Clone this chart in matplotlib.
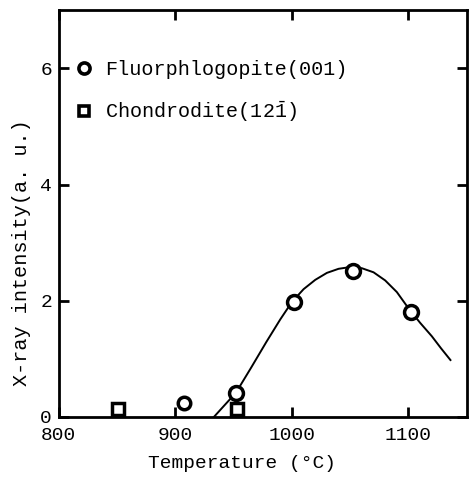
import matplotlib
matplotlib.use("Agg")
import matplotlib.pyplot as plt
from matplotlib.lines import Line2D

plt.rcParams['font.family'] = ['Liberation Mono', 'DejaVu Sans Mono']
plt.rcParams['mathtext.fontset'] = 'custom'
plt.rcParams['mathtext.rm'] = 'Liberation Mono'
plt.rcParams['mathtext.it'] = 'Liberation Mono'

# --- dados ---
phlog_temp = [952, 1002, 1052, 1102]
phlog_int = [0.42, 1.98, 2.52, 1.81]

chond_temp = [851, 953]
chond_int = [0.14, 0.14]

# ponto isolado em ~907 (circulo)
extra_temp = [907]
extra_int = [0.24]

# curva desenhada a mao
curve_temp = [933, 952, 965, 978, 990, 1000, 1010, 1020, 1030, 1040, 1050,
              1060, 1070, 1080, 1090, 1100, 1110, 1120, 1128, 1136]
curve_int = [0.0, 0.42, 0.85, 1.29, 1.68, 1.98, 2.20, 2.36, 2.48, 2.55, 2.58,
             2.56, 2.49, 2.35, 2.15, 1.87, 1.62, 1.39, 1.18, 0.98]

x_ticks = [800, 900, 1000, 1100]
y_ticks = [0, 2, 4, 6]

fig = plt.figure(figsize=(4.71, 4.86), dpi=100)
ax = fig.add_axes([0.125, 0.142, 0.866, 0.837])

ax.plot(curve_temp, curve_int, color="black", lw=1.4, zorder=2)

mk = dict(linestyle="none", mfc="white", mec="black", mew=2.5, zorder=3)
ax.plot(phlog_temp, phlog_int, marker="o", ms=10, **mk)
ax.plot(extra_temp, extra_int, marker="o", ms=9, **mk)
ax.plot(chond_temp, chond_int, marker="s", ms=8, **mk)

ax.set_xlim(800, 1150)
ax.set_ylim(0, 7)
ax.set_xticks(x_ticks)
ax.set_yticks(y_ticks)
ax.tick_params(direction="in", length=7, width=2, top=True, right=True,
               labelsize=14)
ax.tick_params(axis="x", pad=7)
ax.tick_params(axis="y", pad=5)
for s in ax.spines.values():
    s.set_linewidth(2)

ax.set_xlabel("Temperature (°C)", fontsize=14)
ax.xaxis.set_label_coords(0.449, -0.093)
ax.set_ylabel("X-ray intensity(a. u.)", fontsize=14.5)
ax.yaxis.set_label_coords(-0.068, 0.405)

handles = [
    Line2D([], [], marker="o", ms=8, mfc="white", mec="black", mew=2.6, ls="none"),
    Line2D([], [], marker="s", ms=7, mfc="white", mec="black", mew=2.6, ls="none"),
]
labels = ["Fluorphlogopite(001)", "Chondrodite(12$\\bar{1}$)"]
ax.legend(handles, labels, loc="upper left", bbox_to_anchor=(0.0, 0.915),
          frameon=False, fontsize=14.5, handletextpad=0.55, handlelength=1.0,
          labelspacing=1.0, borderaxespad=0.35)

fig.savefig("out.png", dpi=100)
